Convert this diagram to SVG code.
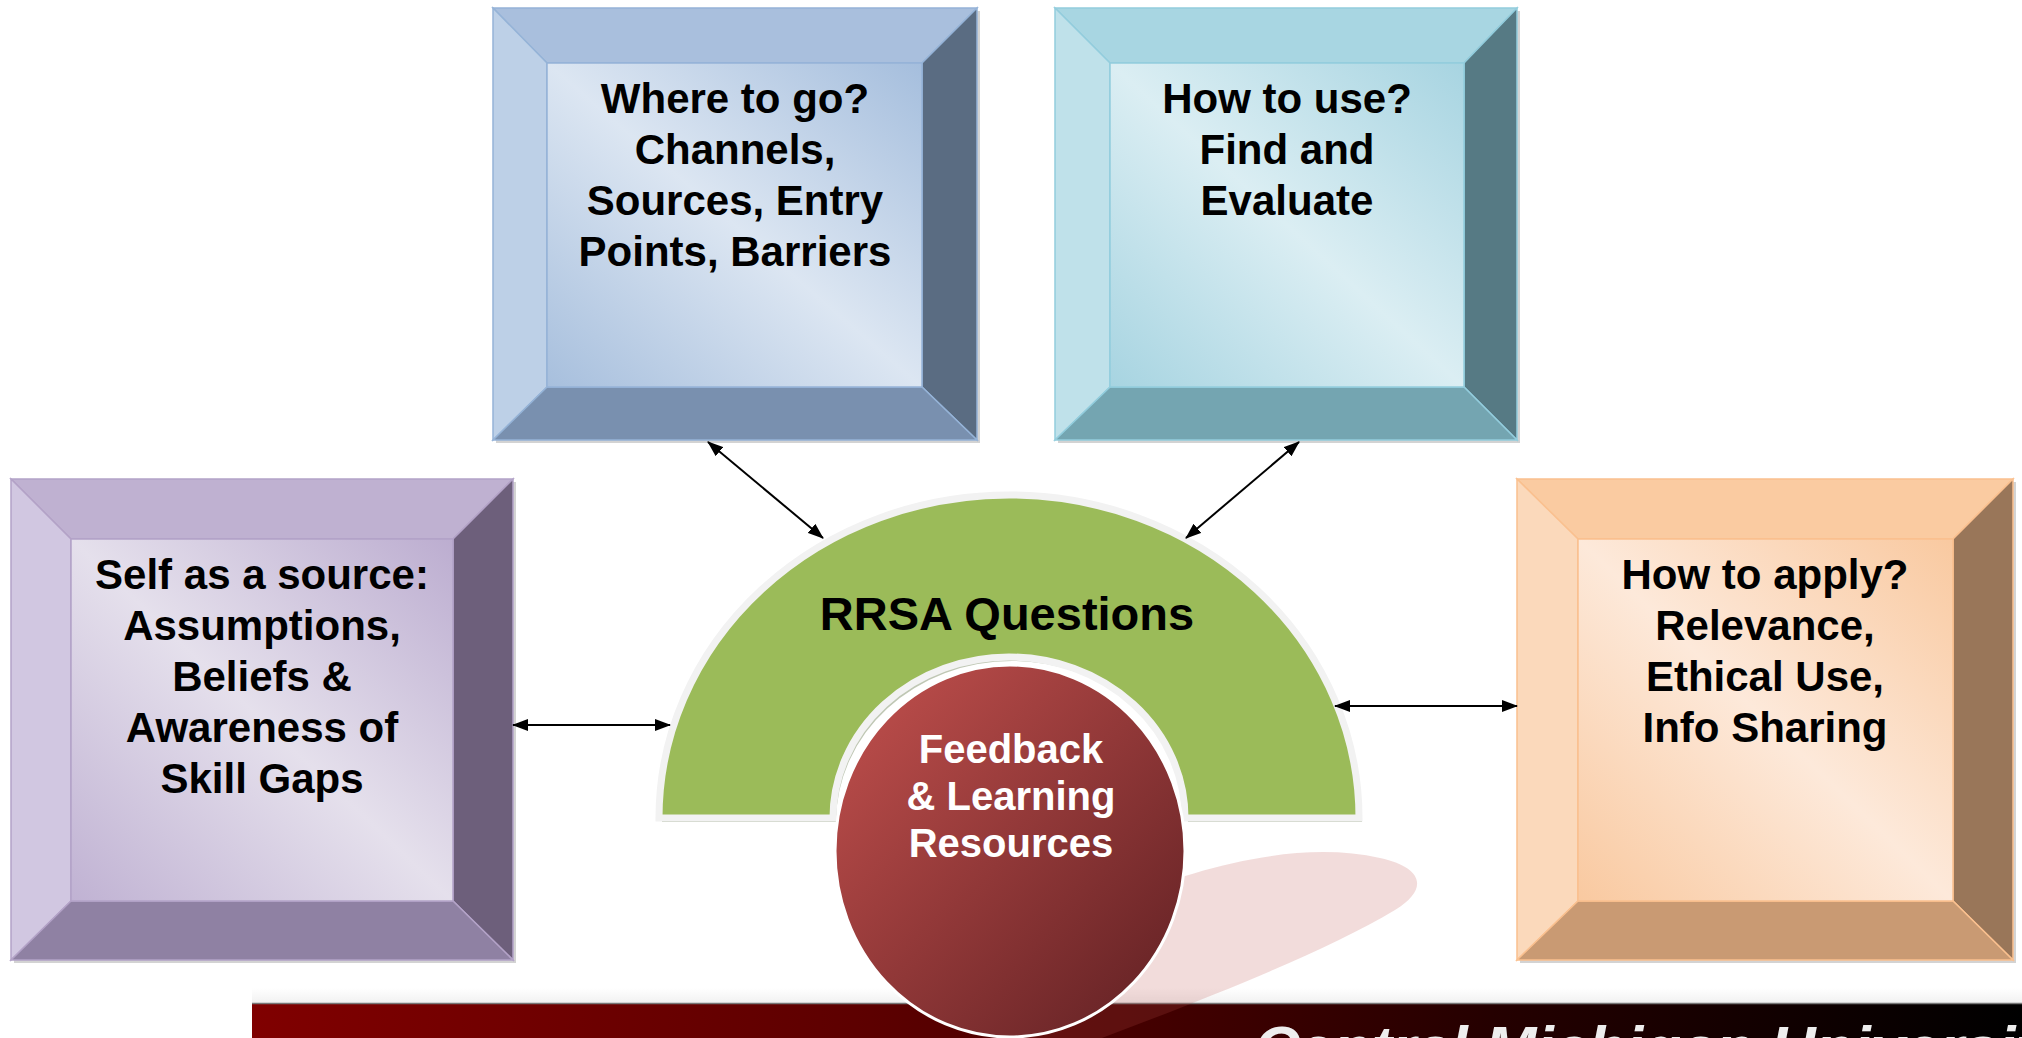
<svg xmlns="http://www.w3.org/2000/svg" width="2022" height="1038" viewBox="0 0 2022 1038">
<defs>
<style>
.bx polygon{stroke-width:1.5;stroke-linejoin:miter}
.shadow{fill:#808080;opacity:0.35}
.lbl{font-family:"Liberation Sans",Arial,sans-serif;font-weight:bold;font-size:42px;text-anchor:middle;fill:#000}
.conn line{stroke:#000;stroke-width:2;marker-start:url(#ah);marker-end:url(#ah)}
.blue polygon{stroke:#95b3d7}.blue .t{fill:#a9bfdd}.blue .l{fill:#bdd0e7}.blue .r{fill:#5a6c82}.blue .b{fill:#7990af}
.teal polygon{stroke:#93cddd}.teal .t{fill:#a8d6e2}.teal .l{fill:#bfe1ea}.teal .r{fill:#567a84}.teal .b{fill:#74a5b1}
.purple polygon{stroke:#b3a2c7}.purple .t{fill:#bfb1d1}.purple .l{fill:#d1c7e1}.purple .r{fill:#6d5f7b}.purple .b{fill:#8f81a3}
.orange polygon{stroke:#fac08f}.orange .t{fill:#facba1}.orange .l{fill:#fbd9bb}.orange .r{fill:#997659}.orange .b{fill:#c99a73}
</style>
<marker id="ah" viewBox="0 0 16 12" refX="15" refY="6" markerWidth="16" markerHeight="12" markerUnits="userSpaceOnUse" orient="auto-start-reverse">
<path d="M0,0 L16,6 L0,12 z" fill="#000"/>
</marker>
<linearGradient id="gBlue" x1="0" y1="1" x2="1" y2="0"><stop offset="0" stop-color="#a7bfdd"/><stop offset="0.5" stop-color="#dce6f2"/><stop offset="1" stop-color="#a5bedd"/></linearGradient>
<linearGradient id="gTeal" x1="0" y1="1" x2="1" y2="0"><stop offset="0" stop-color="#a7d4e1"/><stop offset="0.5" stop-color="#dbeef3"/><stop offset="1" stop-color="#a7d4e1"/></linearGradient>
<linearGradient id="gPurple" x1="0" y1="1" x2="1" y2="0"><stop offset="0" stop-color="#c0b2d3"/><stop offset="0.5" stop-color="#e5e0ec"/><stop offset="1" stop-color="#bcadd0"/></linearGradient>
<linearGradient id="gOrange" x1="0" y1="1" x2="1" y2="0"><stop offset="0" stop-color="#f9c9a0"/><stop offset="0.5" stop-color="#fde9da"/><stop offset="1" stop-color="#f9c9a0"/></linearGradient>
<linearGradient id="gRed" x1="0" y1="0" x2="1" y2="1"><stop offset="0" stop-color="#c4514e"/><stop offset="1" stop-color="#5e1f22"/></linearGradient>
<linearGradient id="gBanner" x1="0" y1="0" x2="1" y2="0"><stop offset="0" stop-color="#800000"/><stop offset="0.35" stop-color="#5c0000"/><stop offset="0.7" stop-color="#250000"/><stop offset="1" stop-color="#000"/></linearGradient>
<linearGradient id="gGlow" x1="0" y1="0" x2="0" y2="1"><stop offset="0" stop-color="#fff"/><stop offset="1" stop-color="#e8e8e8"/></linearGradient>
</defs>
<rect width="2022" height="1038" fill="#fff"/>

<g id="banner">
<rect x="252" y="988" width="1770" height="15" fill="url(#gGlow)" opacity="0.6"/>
<rect x="252" y="1003" width="1770" height="40" fill="url(#gBanner)"/>
<line x1="252" y1="1003.5" x2="2022" y2="1003.5" stroke="#777" stroke-width="1.5"/>
<text x="1254" y="1069" font-family="'Liberation Sans',Arial,sans-serif" font-weight="bold" font-style="italic" font-size="62" fill="#eeeeee">Central Michigan University</text>
</g>

<g id="node-where" class="bx blue">
<rect class="shadow" x="496" y="11" width="484" height="432"/>
<polygon class="t" points="493,8 977,8 922,63 547,63"/>
<polygon class="l" points="493,8 547,63 547,387 493,440"/>
<polygon class="r" points="977,8 977,440 922,387 922,63"/>
<polygon class="b" points="493,440 547,387 922,387 977,440"/>
<polygon points="547,63 922,63 922,387 547,387" fill="url(#gBlue)"/>
<text class="lbl"><tspan x="735" y="113">Where to go?</tspan><tspan x="735" y="164">Channels,</tspan><tspan x="735" y="215">Sources, Entry</tspan><tspan x="735" y="266">Points, Barriers</tspan></text>
</g>

<g id="node-howuse" class="bx teal">
<rect class="shadow" x="1058" y="11" width="462" height="432"/>
<polygon class="t" points="1055,8 1517,8 1464,63 1110,63"/>
<polygon class="l" points="1055,8 1110,63 1110,387 1055,440"/>
<polygon class="r" points="1517,8 1517,440 1464,387 1464,63"/>
<polygon class="b" points="1055,440 1110,387 1464,387 1517,440"/>
<polygon points="1110,63 1464,63 1464,387 1110,387" fill="url(#gTeal)"/>
<text class="lbl"><tspan x="1287" y="113">How to use?</tspan><tspan x="1287" y="164">Find and</tspan><tspan x="1287" y="215">Evaluate</tspan></text>
</g>

<g id="node-self" class="bx purple">
<rect class="shadow" x="14" y="482" width="502" height="481"/>
<polygon class="t" points="11,479 513,479 453,539 71,539"/>
<polygon class="l" points="11,479 71,539 71,901 11,960"/>
<polygon class="r" points="513,479 513,960 453,901 453,539"/>
<polygon class="b" points="11,960 71,901 453,901 513,960"/>
<polygon points="71,539 453,539 453,901 71,901" fill="url(#gPurple)"/>
<text class="lbl"><tspan x="262" y="589">Self as a source:</tspan><tspan x="262" y="640">Assumptions,</tspan><tspan x="262" y="691">Beliefs &amp;</tspan><tspan x="262" y="742">Awareness of</tspan><tspan x="262" y="793">Skill Gaps</tspan></text>
</g>

<g id="node-apply" class="bx orange">
<rect class="shadow" x="1520" y="482" width="496" height="481"/>
<polygon class="t" points="1517,479 2013,479 1953,539 1578,539"/>
<polygon class="l" points="1517,479 1578,539 1578,901 1517,960"/>
<polygon class="r" points="2013,479 2013,960 1953,901 1953,539"/>
<polygon class="b" points="1517,960 1578,901 1953,901 2013,960"/>
<polygon points="1578,539 1953,539 1953,901 1578,901" fill="url(#gOrange)"/>
<text class="lbl"><tspan x="1765" y="589">How to apply?</tspan><tspan x="1765" y="640">Relevance,</tspan><tspan x="1765" y="691">Ethical Use,</tspan><tspan x="1765" y="742">Info Sharing</tspan></text>
</g>

<g id="reflection">
<path d="M1120,900 C1200,866 1300,840 1380,858 C1425,868 1428,890 1395,910 C1320,955 1190,1005 1070,1050 L1000,1050 L1000,990 Z" fill="#c0504d" opacity="0.2"/>
</g>

<g id="node-rrsa">
<path d="M662,822 A350,323 0 0 1 1362,822 L1188,822 A176,161 0 0 0 836,822 Z" fill="#7f8f6a" opacity="0.5"/>
<path d="M659,818 A350,323 0 0 1 1359,818 L1185,818 A176,161 0 0 0 833,818 Z" fill="#9bbb59" stroke="#f2f2f2" stroke-width="7"/>
<text x="1007" y="630" font-family="'Liberation Sans',Arial,sans-serif" font-weight="bold" font-size="47" text-anchor="middle" fill="#000">RRSA Questions</text>
</g>

<g id="node-feedback">
<ellipse cx="1010" cy="851" rx="175" ry="186" fill="url(#gRed)" stroke="#ffffff" stroke-width="3"/>
<text font-family="'Liberation Sans',Arial,sans-serif" font-weight="bold" font-size="40" text-anchor="middle" fill="#fff"><tspan x="1011" y="763">Feedback</tspan><tspan x="1011" y="810">&amp; Learning</tspan><tspan x="1011" y="857">Resources</tspan></text>
</g>

<g id="connectors" class="conn">
<line x1="708" y1="442" x2="823" y2="538"/>
<line x1="1299" y1="442" x2="1186" y2="538"/>
<line x1="513" y1="725" x2="670" y2="725"/>
<line x1="1335" y1="706" x2="1517" y2="706"/>
</g>
</svg>
